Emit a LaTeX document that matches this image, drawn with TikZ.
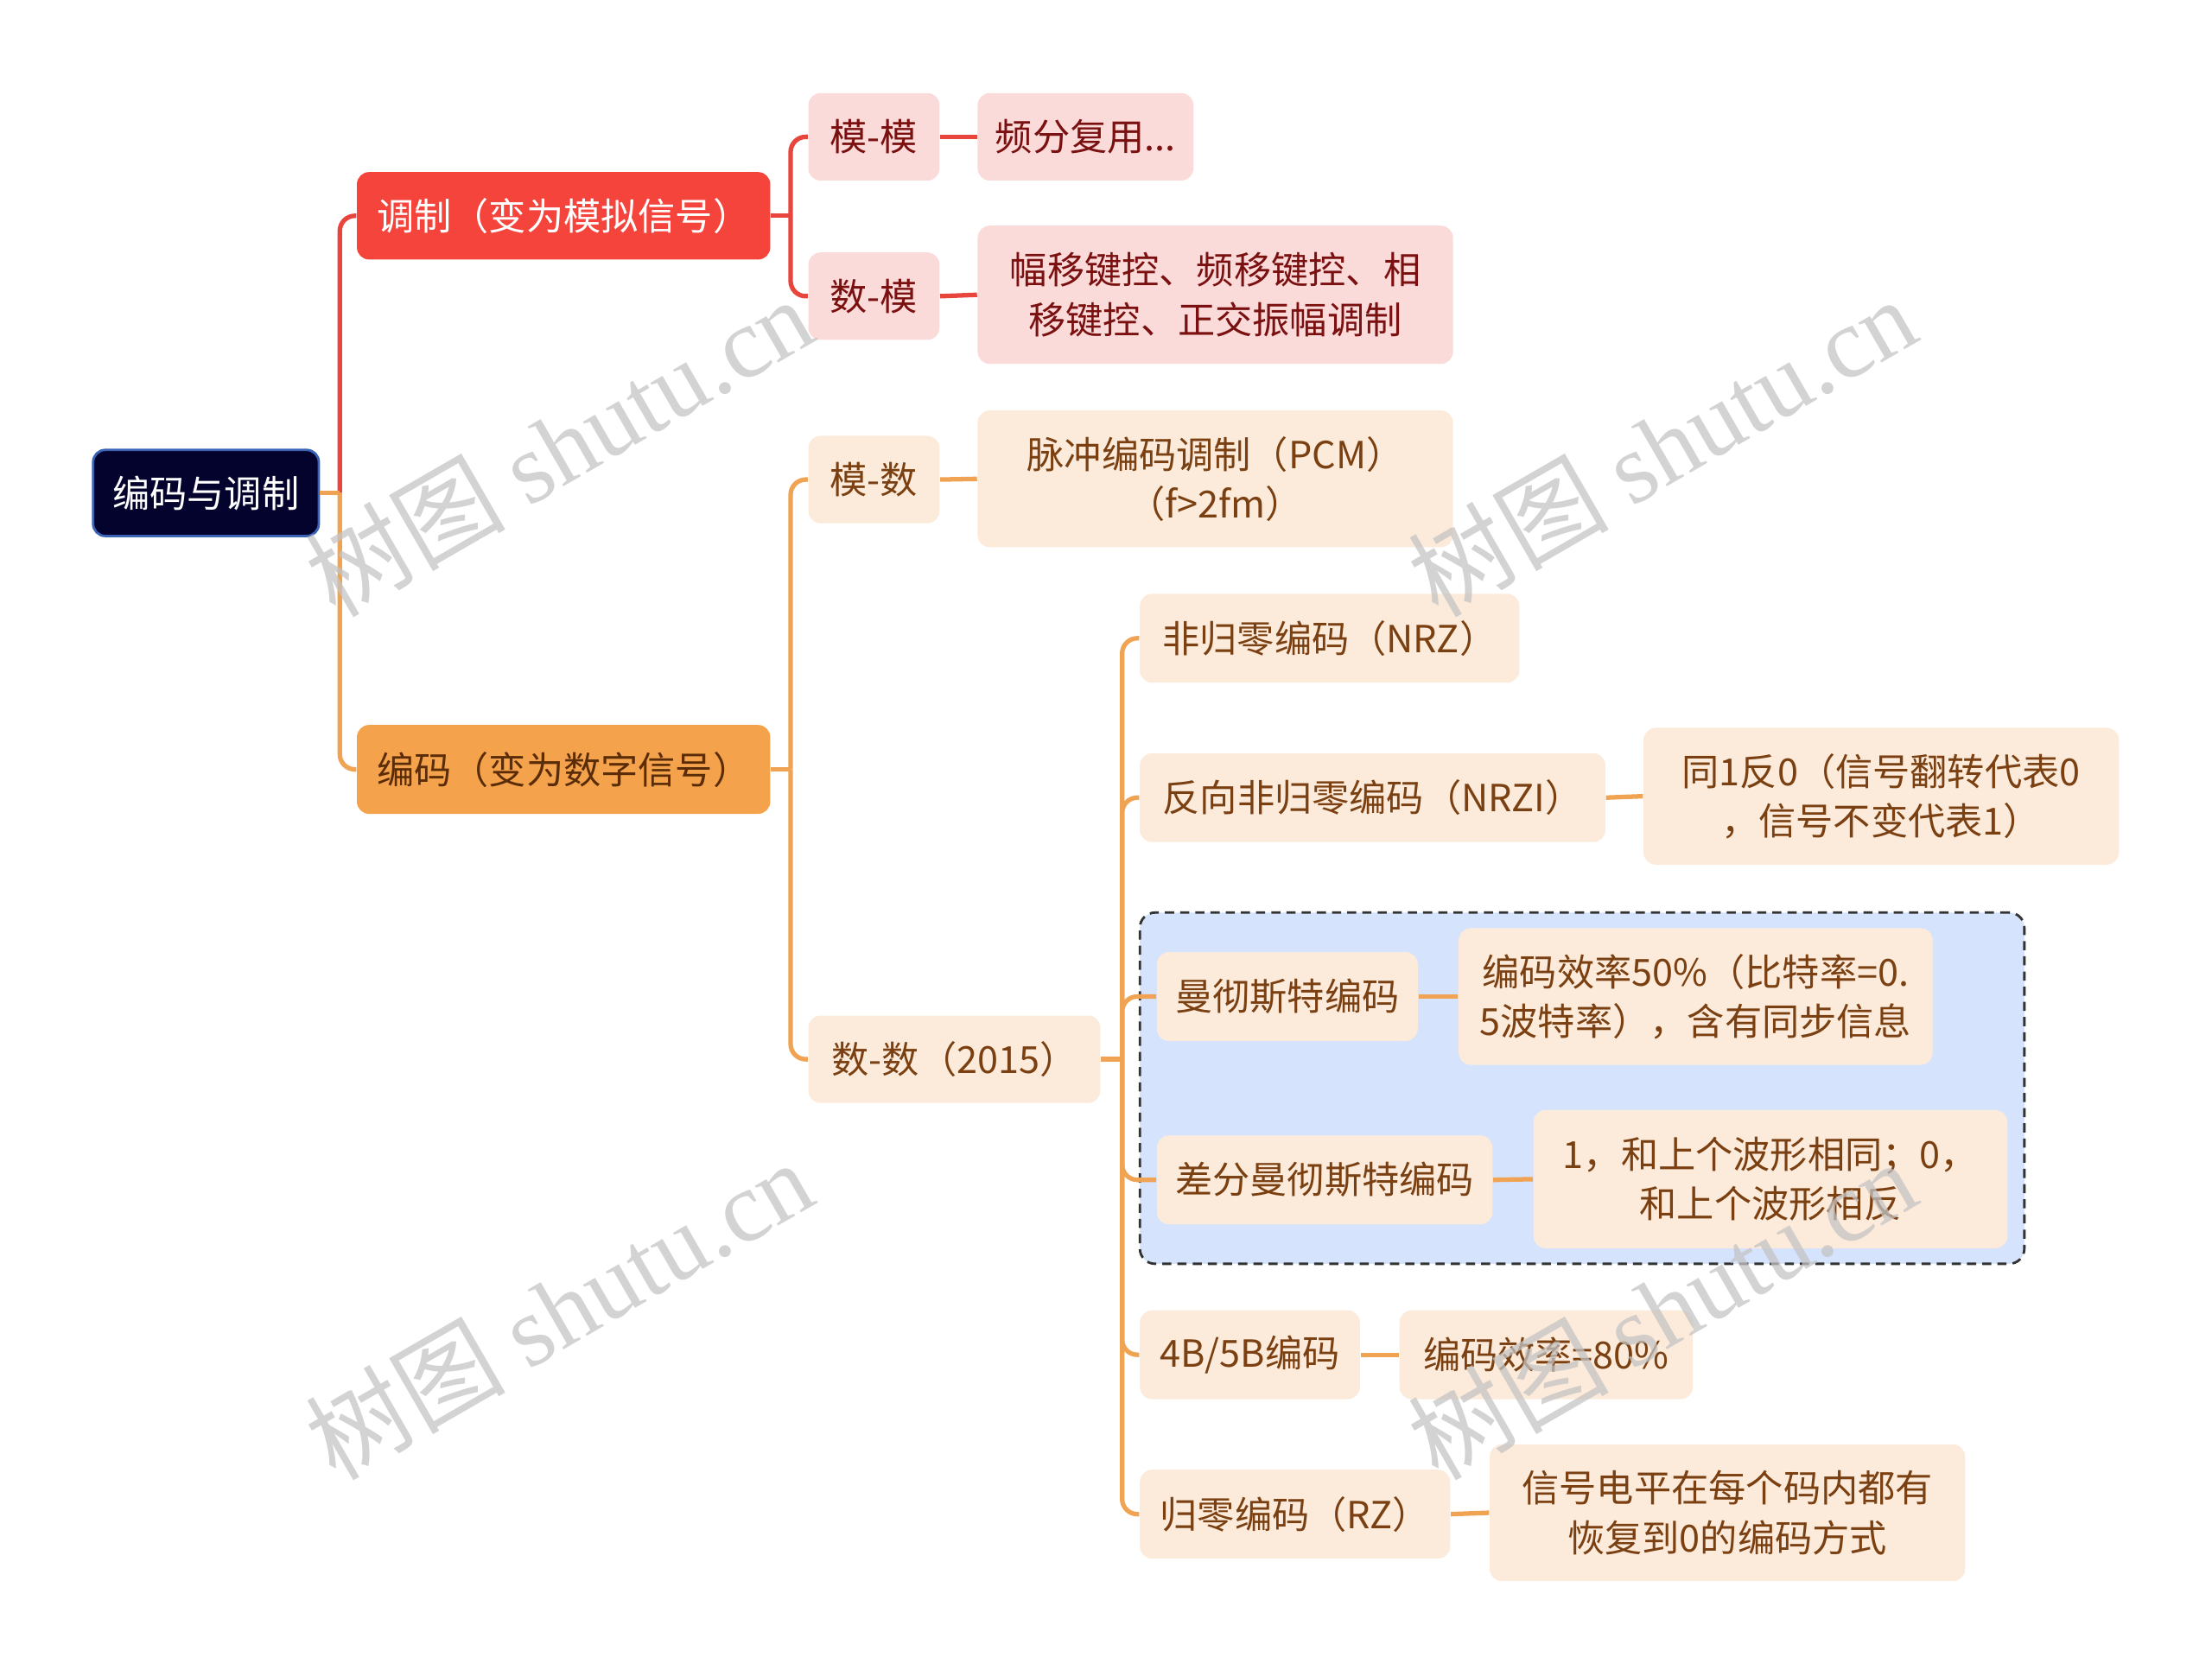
\documentclass[tikz,border=0pt]{standalone}
\usepackage{fontspec}
\setmainfont{Noto Sans CJK SC}
\newfontfamily\wmserif{Liberation Serif}
\usetikzlibrary{calc}
\definecolor{rootfill}{HTML}{03032E}
\definecolor{rootborder}{HTML}{3A62B5}
\definecolor{redfill}{HTML}{F5443C}
\definecolor{redline}{HTML}{E8453D}
\definecolor{orfill}{HTML}{F4A24C}
\definecolor{orline}{HTML}{F0A352}
\definecolor{pinkfill}{HTML}{FBDADA}
\definecolor{peachfill}{HTML}{FCEBDB}
\definecolor{redtext}{HTML}{7A1010}
\definecolor{browntext}{HTML}{7B4012}
\definecolor{darkbrown}{HTML}{5A2C08}
\definecolor{grpfill}{HTML}{D5E3FC}
\definecolor{wmgray}{HTML}{C4C4C4}
\begin{document}
\begin{tikzpicture}[x=0.016327cm, y=-0.016327cm,
  sz/.style 2 args={minimum width=#1*0.016327cm, minimum height=#2*0.016327cm},
  base/.style={rounded corners=4pt, inner sep=0pt, align=center, font=\fontsize{12.3}{16.3}\selectfont},
  rootbox/.style={base, fill=rootfill, draw=rootborder, line width=0.8pt, text=white},
  redbox/.style={base, fill=redfill, text=white},
  orbox/.style={base, fill=orfill, text=darkbrown},
  pinkbox/.style={base, fill=pinkfill, text=redtext},
  peachbox/.style={base, fill=peachfill, text=browntext},
  rl/.style={draw=redline, line width=1.5pt, rounded corners=5pt},
  ol/.style={draw=orline, line width=1.5pt, rounded corners=5pt},
  wm/.style={text=wmgray, opacity=0.75, rotate=30, font=\fontsize{33}{40}\selectfont}
]
\useasboundingbox (0,0) rectangle (1568,1188);

% dashed group
\node[sz={627}{249}, draw=black!80, dashed, dash pattern=on 3pt off 2pt, line width=0.8pt, fill=grpfill, rounded corners=5pt] (grp) at (1121.5,771.5) {};

% nodes
\node[rootbox, sz={160}{61}] (root) at (146,349.5) {编码与调制};
\node[redbox, sz={293}{62}] (mod) at (399.5,153) {调制（变为模拟信号）};
\node[orbox, sz={293}{63}] (enc) at (399.5,545.5) {编码（变为数字信号）};

\node[pinkbox, sz={93}{62}] (mm) at (619.5,97) {模-模};
\node[pinkbox, sz={153}{62}] (mmL) at (769.5,97) {频分复用...};
\node[pinkbox, sz={93}{62}] (sm) at (619.5,210) {数-模};
\node[pinkbox, sz={337}{98}] (smL) at (861.5,209) {幅移键控、频移键控、相\\移键控、正交振幅调制};

\node[peachbox, sz={93}{62}] (md) at (619.5,340) {模-数};
\node[peachbox, sz={337}{97}] (mdL) at (861.5,339.5) {脉冲编码调制（PCM）\\（f>2fm）};
\node[peachbox, sz={207}{62}] (ss) at (676.5,751) {数-数（2015）};

\node[peachbox, sz={269}{63}] (nrz) at (942.5,452.5) {非归零编码（NRZ）};
\node[peachbox, sz={330}{63}] (nrzi) at (973,565.5) {反向非归零编码（NRZI）};
\node[peachbox, sz={337}{97}] (nrziL) at (1333.5,564.5) {同1反0（信号翻转代表0\\，信号不变代表1）};
\node[peachbox, sz={185}{63}] (man) at (912.5,706.5) {曼彻斯特编码};
\node[peachbox, sz={336}{97}] (manL) at (1202,706.5) {编码效率50\%（比特率=0.\\5波特率），含有同步信息};
\node[peachbox, sz={238}{63}] (dman) at (939,836.5) {差分曼彻斯特编码};
\node[peachbox, sz={336}{98}] (dmanL) at (1255,836) {1，和上个波形相同；0，\\和上个波形相反};
\node[peachbox, sz={156}{63}] (b45) at (886,960.5) {4B/5B编码};
\node[peachbox, sz={208}{63}] (b45L) at (1096,960.5) {编码效率=80\%};
\node[peachbox, sz={220}{63}] (rz) at (918,1073.5) {归零编码（RZ）};
\node[peachbox, sz={337}{97}] (rzL) at (1224.5,1072.5) {信号电平在每个码内都有\\恢复到0的编码方式};

% connectors: root
\draw[rl] (root.east) ++(14,0) |- (mod.west);
\draw[ol] (root.east) ++(14,0) |- (enc.west);
\draw[ol, rounded corners=0pt] (root.east) -- ++(14,0);
% modulation
\draw[rl] (mod.east) ++(14,0) |- (mm.west);
\draw[rl] (mod.east) ++(14,0) |- (sm.west);
\draw[rl, rounded corners=0pt] (mod.east) -- ++(14,0);
\draw[rl] (mm.east) -- (mmL.west);
\draw[rl] (sm.east) -- (smL.west);
% encoding
\draw[ol] (enc.east) ++(14,0) |- (md.west);
\draw[ol] (enc.east) ++(14,0) |- (ss.west);
\draw[ol, rounded corners=0pt] (enc.east) -- ++(14,0);
\draw[ol] (md.east) -- (mdL.west);
% digital-digital
\draw[ol] (ss.east) ++(15,0) |- (nrz.west);
\draw[ol] (ss.east) ++(15,0) |- (nrzi.west);
\draw[ol] (ss.east) ++(15,0) |- (man.west);
\draw[ol] (ss.east) ++(15,0) |- (dman.west);
\draw[ol] (ss.east) ++(15,0) |- (b45.west);
\draw[ol] (ss.east) ++(15,0) |- (rz.west);
\draw[ol, rounded corners=0pt] (ss.east) -- ++(15,0);
\draw[ol] (nrzi.east) -- (nrziL.west);
\draw[ol] (man.east) -- (manL.west);
\draw[ol] (dman.east) -- (dmanL.west);
\draw[ol] (b45.east) -- (b45L.west);
\draw[ol] (rz.east) -- (rzL.west);

% watermarks
\node[wm] (wm1) at (396,316) {树图 {\wmserif shutu.cn}};
\node[wm] (wm2) at (1178,316) {树图 {\wmserif shutu.cn}};
\node[wm] (wm3) at (396,928) {树图 {\wmserif shutu.cn}};
\node[wm] (wm4) at (1178,928) {树图 {\wmserif shutu.cn}};
\end{tikzpicture}
\end{document}
